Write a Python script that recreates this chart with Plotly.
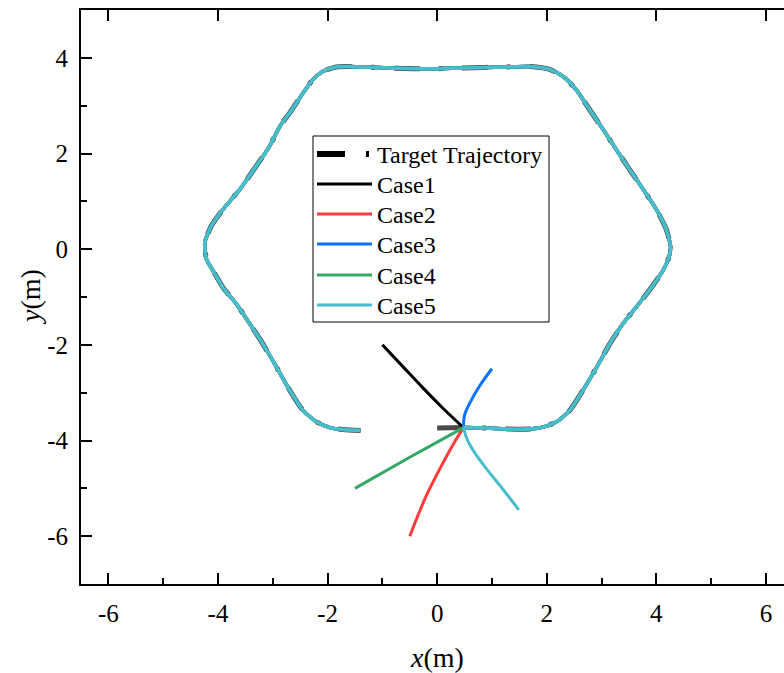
import plotly.graph_objects as go

# ---------------- data ----------------
# target trajectory (m), counter-clockwise from the bottom start point
target_x = [0.00, 0.47, 0.90, 1.32, 1.69, 1.93, 2.18, 2.42, 2.66, 2.91, 3.15, 3.39, 3.64, 3.88,
            4.12, 4.23, 4.26, 4.18, 4.00, 3.76, 3.51, 3.27, 3.03, 2.78, 2.54, 2.30, 2.05, 1.69,
            1.26, 0.47, -0.14, -0.74, -1.60, -1.84, -2.08, -2.27, -2.45, -2.69, -2.87, -3.06,
            -3.30, -3.60, -3.91, -4.12, -4.24, -4.21, -4.09, -3.91, -3.66, -3.42, -3.18, -2.93,
            -2.69, -2.45, -2.20, -1.96, -1.72, -1.40]
target_y = [-3.74, -3.73, -3.74, -3.76, -3.76, -3.72, -3.61, -3.37, -2.95, -2.47, -1.98, -1.56,
            -1.20, -0.85, -0.45, -0.17, 0.05, 0.42, 0.83, 1.25, 1.67, 2.08, 2.50, 2.92, 3.33,
            3.61, 3.76, 3.82, 3.81, 3.79, 3.77, 3.78, 3.82, 3.81, 3.72, 3.54, 3.26, 2.85, 2.57,
            2.15, 1.74, 1.25, 0.83, 0.49, 0.14, -0.21, -0.45, -0.80, -1.15, -1.56, -1.98, -2.47,
            -2.95, -3.37, -3.61, -3.73, -3.77, -3.79]

# approach paths of each case from its initial position to the target
case1_x = [-1.00, -0.63, -0.26, 0.11, 0.48]
case1_y = [-2.00, -2.45, -2.90, -3.33, -3.73]
case2_x = [-0.50, -0.20, 0.11, 0.35, 0.48]
case2_y = [-6.00, -5.16, -4.46, -3.97, -3.73]
case3_x = [1.00, 0.78, 0.59, 0.50, 0.48]
case3_y = [-2.50, -2.85, -3.23, -3.47, -3.73]
case4_x = [-1.50, -0.50, 0.10, 0.48]
case4_y = [-5.00, -4.35, -3.97, -3.73]
case5_x = [1.49, 1.20, 0.92, 0.70, 0.55, 0.48]
case5_y = [-5.45, -5.02, -4.62, -4.28, -3.98, -3.73]

case_names = ["Case1", "Case2", "Case3", "Case4", "Case5"]
case_colors = ["#000000", "#FF3B3B", "#0A74FF", "#34A864", "#48BDCC"]
approach_x = [case1_x, case2_x, case3_x, case4_x, case5_x]
approach_y = [case1_y, case2_y, case3_y, case4_y, case5_y]

x_ticks = [-6, -4, -2, 0, 2, 4, 6]
y_ticks = [-6, -4, -2, 0, 2, 4]

SERIF = "Liberation Serif"
TARGET_DASH = "26px,19px,4px,19px"

fig = go.Figure()

# target trajectory
fig.add_trace(go.Scatter(
    x=target_x, y=target_y, mode="lines", name="Target Trajectory", showlegend=False,
    line=dict(color="#4a4a4a", width=5, dash=TARGET_DASH, shape="spline", smoothing=0.6),
))

# each case: approach path, then tracking along the target from the meeting point
for name, color, ax, ay in zip(case_names, case_colors, approach_x, approach_y):
    fig.add_trace(go.Scatter(
        x=ax, y=ay, mode="lines", name=name, showlegend=False, legendgroup=name,
        line=dict(color=color, width=3, shape="spline", smoothing=1.0),
    ))
    fig.add_trace(go.Scatter(
        x=[ax[-1]] + target_x[2:], y=[ay[-1]] + target_y[2:], mode="lines", name=name,
        showlegend=False, legendgroup=name,
        line=dict(color=color, width=3.5, shape="spline", smoothing=0.6),
    ))

# invisible trace carrying the top tick axis
fig.add_trace(go.Scatter(x=[None], y=[None], xaxis="x2", yaxis="y", showlegend=False,
                         hoverinfo="skip"))

W, H = 784, 673
L, R, T, B = 81, 0, 10, 89
pw, ph = W - L - R, H - T - B


def px_x(p):
    return (p - L) / pw


def px_y(p):
    return (H - B - p) / ph


# legend drawn as a framed box
shapes = [dict(type="rect", xref="paper", yref="paper",
               x0=px_x(313), x1=px_x(549), y0=px_y(136), y1=px_y(322),
               line=dict(color="black", width=1), fillcolor="white", layer="above")]
annotations = []
legend_names = ["Target Trajectory"] + case_names
legend_colors = ["#000000"] + case_colors
row_y = [154, 184, 214, 244, 275, 305]
for i, (nm, col, ry) in enumerate(zip(legend_names, legend_colors, row_y)):
    if i == 0:
        shapes.append(dict(type="line", xref="paper", yref="paper",
                           x0=px_x(317), x1=px_x(372), y0=px_y(ry), y1=px_y(ry),
                           line=dict(color=col, width=6, dash="28px,21px,3px,10px"),
                           layer="above"))
    else:
        shapes.append(dict(type="line", xref="paper", yref="paper",
                           x0=px_x(317), x1=px_x(372), y0=px_y(ry), y1=px_y(ry),
                           line=dict(color=col, width=3), layer="above"))
    annotations.append(dict(text=nm, xref="paper", yref="paper", x=px_x(375), y=px_y(ry + 1),
                            xanchor="left", yanchor="middle", showarrow=False,
                            font=dict(family=SERIF, size=24)))

# axis titles
annotations.append(dict(text="<i>x</i>(m)", xref="x", yref="paper", x=0, y=px_y(657),
                        xanchor="center", yanchor="middle", showarrow=False,
                        font=dict(family=SERIF, size=28)))
annotations.append(dict(text="<i>y</i>(m)", xref="paper", yref="paper", x=px_x(30), y=px_y(297),
                        xanchor="center", yanchor="middle", showarrow=False, textangle=-90,
                        font=dict(family=SERIF, size=28)))

tick_font = dict(family=SERIF, size=25)

fig.update_layout(
    width=W, height=H,
    margin=dict(l=L, r=R, t=T, b=B, pad=0),
    paper_bgcolor="white", plot_bgcolor="white",
    font=dict(family=SERIF, color="black"),
    showlegend=False,
    shapes=shapes, annotations=annotations,
    xaxis=dict(range=[-6.5, 6.33], showgrid=False, zeroline=False,
               showline=True, linecolor="black", linewidth=2, mirror=True,
               ticks="inside", ticklen=11, tickwidth=2, tickcolor="black",
               tickvals=x_ticks, ticktext=[str(v) for v in x_ticks], tickfont=tick_font,
               ticklabelstandoff=6,
               minor=dict(ticks="inside", ticklen=6, tickwidth=2, tickcolor="black",
                          tickvals=[-5, -3, -1, 1, 3, 5], showgrid=False)),
    xaxis2=dict(overlaying="x", matches="x", side="top", anchor="y", range=[-6.5, 6.33],
                showgrid=False, zeroline=False, showline=False,
                ticks="inside", ticklen=11, tickwidth=2, tickcolor="black",
                tickvals=x_ticks, showticklabels=False),
    yaxis=dict(range=[-7, 5], showgrid=False, zeroline=False,
               showline=True, linecolor="black", linewidth=2,
               ticks="inside", ticklen=11, tickwidth=2, tickcolor="black",
               tickvals=y_ticks, ticktext=[str(v) for v in y_ticks], tickfont=tick_font,
               ticklabelstandoff=6,
               minor=dict(ticks="inside", ticklen=6, tickwidth=2, tickcolor="black",
                          tickvals=[-5, -3, -1, 1, 3], showgrid=False)),
)

fig.write_html("out.html")
